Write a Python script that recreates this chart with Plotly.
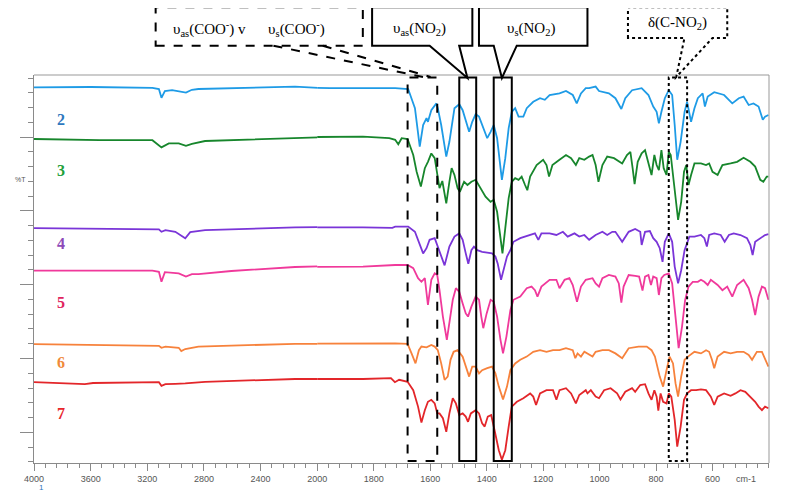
import plotly.graph_objects as go

# ---------------- data (wavenumber cm-1, %T offset units) ----------------
spec2 = [(4000, 93.9), (3600, 94.0), (3164, 93.8), (3118, 93.5), (3100, 91.3), (3076, 93.0), (3025, 93.2),
         (2927, 92.6), (2885, 93.3), (2839, 93.5), (2157, 94.1), (1955, 93.7), (1724, 93.7), (1678, 93.5),
         (1654, 88.7), (1637, 79.1), (1625, 84.5), (1613, 86.2), (1608, 85.3), (1596, 88.2), (1587, 89.1),
         (1578, 89.9), (1573, 88.7), (1561, 84.5), (1543, 76.6), (1532, 80.3), (1514, 88.7), (1497, 89.7),
         (1485, 88.2), (1474, 85.3), (1462, 82.8), (1451, 85.3), (1439, 87.2), (1427, 86.6), (1410, 83.7),
         (1398, 81.2), (1386, 82.8), (1375, 84.5), (1363, 81.2), (1351, 73.7), (1346, 70.8), (1334, 76.2),
         (1322, 83.7), (1311, 87.8), (1299, 88.7), (1287, 86.6), (1270, 86.6), (1258, 88.7), (1235, 90.3),
         (1211, 91.2), (1194, 90.8), (1177, 92.0), (1142, 92.4), (1119, 93.0), (1095, 92.0), (1081, 89.9),
         (1066, 92.4), (1049, 93.7), (1037, 93.7), (1014, 94.1), (1002, 93.0), (967, 92.4), (944, 91.2),
         (923, 88.5), (909, 91.2), (885, 93.2), (851, 93.7), (827, 92.0), (810, 89.1), (798, 87.8),
         (790, 84.9), (781, 87.8), (769, 91.2), (755, 93.2), (743, 92.0), (734, 84.5), (725, 75.8),
         (713, 80.3), (699, 87.8), (690, 90.3), (682, 87.8), (676, 85.3), (664, 88.7), (652, 91.2),
         (635, 92.4), (627, 89.1), (617, 91.6), (594, 92.7), (559, 92.0), (530, 89.9), (507, 91.2),
         (490, 91.6), (472, 89.5), (455, 89.9), (437, 89.1), (422, 85.8), (414, 86.6), (402, 87.0)]

spec3 = [(4000, 81.0), (3537, 80.7), (3164, 80.7), (3100, 78.9), (3048, 79.9), (2978, 79.9), (2927, 79.3),
         (2885, 79.8), (2792, 80.5), (2374, 81.0), (2157, 81.4), (1838, 81.6), (1745, 81.2), (1724, 80.8),
         (1713, 79.7), (1701, 81.2), (1680, 81.0), (1660, 77.0), (1648, 72.8), (1633, 69.1), (1619, 73.7),
         (1608, 75.3), (1596, 77.4), (1584, 76.2), (1575, 72.0), (1567, 68.7), (1557, 70.5), (1549, 67.8),
         (1543, 64.9), (1532, 70.3), (1524, 73.7), (1514, 72.0), (1503, 68.7), (1495, 67.8), (1480, 70.3),
         (1468, 69.5), (1454, 70.3), (1439, 70.8), (1421, 68.7), (1404, 66.6), (1386, 65.3), (1375, 65.8),
         (1363, 62.8), (1354, 57.8), (1344, 52.4), (1334, 58.7), (1322, 66.2), (1311, 70.3), (1299, 71.2),
         (1287, 70.8), (1276, 71.6), (1264, 69.5), (1256, 68.2), (1246, 71.6), (1223, 74.5), (1200, 75.8),
         (1188, 74.5), (1179, 71.6), (1167, 74.5), (1142, 75.8), (1119, 77.0), (1101, 76.2), (1084, 74.5),
         (1072, 76.2), (1054, 75.8), (1037, 76.6), (1025, 77.0), (1014, 74.5), (1004, 70.3), (990, 74.5),
         (973, 76.6), (949, 76.2), (932, 75.3), (920, 74.9), (903, 77.0), (891, 77.8), (883, 73.7),
         (876, 69.7), (865, 75.3), (851, 77.4), (839, 78.2), (827, 74.9), (816, 72.0), (806, 77.0),
         (798, 74.5), (790, 73.2), (781, 78.2), (773, 73.7), (763, 72.0), (755, 77.8), (748, 77.0),
         (736, 69.5), (722, 60.8), (711, 65.3), (701, 72.8), (693, 74.5), (685, 69.5), (676, 72.0),
         (664, 74.9), (641, 74.9), (623, 74.5), (612, 74.9), (600, 72.8), (582, 72.0), (565, 74.5),
         (536, 74.9), (513, 75.3), (490, 76.3), (466, 75.3), (449, 74.1), (431, 70.8), (420, 70.3),
         (408, 71.6), (402, 71.6)]

spec4 = [(4000, 58.7), (3118, 58.4), (3100, 57.8), (3072, 58.2), (3002, 57.8), (2932, 56.2), (2897, 57.7),
         (2792, 58.2), (2157, 58.9), (1838, 58.9), (1734, 58.8), (1724, 59.1), (1678, 59.1), (1654, 57.8),
         (1637, 54.5), (1625, 52.4), (1613, 53.7), (1602, 55.8), (1584, 56.2), (1575, 54.5), (1549, 49.4),
         (1532, 54.1), (1514, 56.6), (1497, 57.4), (1485, 55.8), (1474, 52.4), (1465, 49.8), (1454, 53.2),
         (1445, 54.1), (1433, 53.2), (1416, 52.8), (1398, 52.6), (1381, 52.4), (1369, 51.6), (1361, 49.9),
         (1349, 45.8), (1328, 51.6), (1316, 53.2), (1305, 55.3), (1281, 56.2), (1246, 57.0), (1229, 57.4),
         (1217, 55.8), (1206, 57.4), (1177, 57.4), (1153, 57.0), (1130, 57.8), (1113, 56.6), (1089, 57.4),
         (1072, 56.6), (1054, 57.0), (1037, 55.8), (1014, 57.0), (990, 57.8), (973, 57.0), (955, 57.8),
         (944, 57.8), (920, 55.3), (897, 57.8), (874, 58.5), (856, 57.8), (851, 54.5), (839, 57.8),
         (822, 58.0), (810, 56.2), (798, 55.3), (787, 53.7), (777, 50.3), (769, 55.3), (755, 57.4),
         (743, 55.3), (734, 49.1), (722, 44.9), (711, 48.2), (699, 53.2), (690, 55.3), (682, 56.6),
         (664, 56.6), (641, 57.0), (629, 56.2), (620, 54.1), (612, 57.0), (594, 57.4), (571, 57.0),
         (557, 55.3), (542, 57.0), (525, 57.4), (501, 57.0), (478, 56.2), (466, 54.5), (458, 52.0),
         (449, 55.3), (431, 56.2), (414, 57.0), (402, 57.2)]

spec5 = [(4000, 48.1), (3164, 48.1), (3118, 47.8), (3100, 45.3), (3076, 47.7), (2978, 47.4), (2927, 46.6),
         (2885, 47.2), (2839, 47.2), (2606, 48.0), (2157, 49.0), (1838, 49.1), (1724, 49.5), (1680, 49.5),
         (1660, 48.7), (1643, 46.2), (1631, 45.3), (1619, 46.2), (1608, 39.5), (1596, 45.8), (1584, 47.4),
         (1575, 47.0), (1567, 43.2), (1555, 36.6), (1541, 30.8), (1532, 34.9), (1520, 40.8), (1509, 43.7),
         (1497, 42.8), (1485, 39.9), (1474, 37.4), (1466, 36.6), (1454, 39.1), (1439, 41.6), (1427, 40.8),
         (1419, 36.6), (1412, 33.7), (1400, 37.4), (1386, 40.8), (1375, 40.3), (1363, 36.6), (1351, 30.8),
         (1342, 27.4), (1330, 31.6), (1316, 38.2), (1305, 40.8), (1281, 41.6), (1258, 43.7), (1241, 44.1),
         (1229, 43.2), (1220, 41.6), (1206, 44.1), (1177, 45.8), (1153, 45.8), (1142, 43.7), (1124, 45.8),
         (1107, 46.2), (1095, 44.5), (1080, 40.3), (1066, 44.1), (1049, 45.8), (1025, 46.2), (1014, 44.9),
         (1002, 44.1), (990, 46.2), (967, 47.0), (944, 46.6), (932, 44.9), (923, 40.1), (915, 44.1),
         (897, 47.0), (874, 46.8), (860, 46.6), (848, 43.1), (839, 46.6), (827, 47.0), (818, 44.5),
         (810, 46.6), (798, 46.2), (790, 42.0), (781, 46.2), (771, 47.0), (755, 47.4), (743, 44.9),
         (732, 36.6), (720, 28.7), (708, 34.1), (697, 40.8), (685, 44.1), (670, 45.3), (652, 45.3),
         (641, 45.8), (629, 45.3), (617, 44.5), (606, 45.8), (582, 44.5), (565, 43.2), (548, 44.1),
         (530, 41.6), (513, 44.5), (490, 45.8), (472, 43.7), (460, 40.8), (449, 37.0), (437, 41.6),
         (425, 44.1), (414, 43.7), (402, 40.8)]

spec6 = [(4000, 29.7), (3118, 29.3), (3100, 28.8), (3072, 29.1), (2978, 28.8), (2960, 28.0), (2932, 28.5),
         (2908, 28.7), (2839, 29.1), (2157, 29.8), (1724, 29.9), (1680, 29.8), (1666, 27.4), (1652, 24.9),
         (1640, 28.2), (1631, 29.1), (1613, 28.9), (1596, 29.5), (1584, 29.1), (1573, 28.2), (1561, 24.9),
         (1549, 20.8), (1538, 21.6), (1528, 25.8), (1517, 27.8), (1503, 28.2), (1485, 26.6), (1474, 24.1),
         (1462, 21.6), (1451, 24.1), (1439, 24.1), (1427, 22.4), (1416, 23.2), (1398, 23.7), (1381, 24.1),
         (1369, 22.4), (1357, 19.1), (1342, 15.9), (1328, 19.1), (1316, 23.2), (1299, 24.9), (1281, 25.8),
         (1258, 26.6), (1235, 27.8), (1211, 28.2), (1188, 27.8), (1165, 28.2), (1142, 28.2), (1119, 28.7),
         (1095, 28.2), (1086, 26.2), (1078, 27.4), (1066, 26.6), (1054, 27.8), (1037, 27.0), (1025, 26.6),
         (1014, 27.8), (990, 28.2), (967, 28.2), (944, 27.4), (920, 26.2), (897, 28.7), (862, 29.1),
         (833, 29.1), (816, 28.2), (804, 26.6), (787, 21.6), (775, 19.1), (763, 23.2), (752, 26.6),
         (740, 24.9), (731, 19.9), (722, 16.6), (711, 21.6), (699, 25.8), (687, 26.6), (664, 27.8),
         (641, 27.4), (623, 28.2), (612, 27.8), (602, 25.8), (594, 23.7), (582, 26.6), (559, 27.8),
         (536, 27.4), (513, 27.8), (490, 27.8), (472, 27.0), (460, 25.8), (443, 27.8), (425, 27.8),
         (414, 25.8), (402, 24.1)]

spec7 = [(4000, 20.2), (3700, 19.9), (3641, 19.7), (3583, 20.0), (3164, 20.3), (3118, 20.2), (3100, 19.3),
         (3072, 19.7), (3002, 19.8), (2932, 19.9), (2792, 20.3), (2157, 21.0), (1838, 21.0), (1739, 21.2),
         (1725, 20.2), (1710, 20.8), (1680, 20.3), (1660, 18.2), (1643, 14.1), (1631, 10.1), (1619, 13.2),
         (1608, 15.3), (1596, 15.8), (1584, 14.9), (1575, 12.4), (1567, 12.4), (1555, 11.2), (1543, 7.8),
         (1532, 12.4), (1520, 16.2), (1509, 14.9), (1497, 12.0), (1485, 12.4), (1474, 11.6), (1466, 10.3),
         (1456, 12.4), (1439, 13.2), (1427, 12.4), (1416, 9.9), (1407, 9.1), (1396, 11.6), (1384, 12.0),
         (1372, 8.2), (1357, 3.2), (1346, 0.8), (1334, 3.2), (1322, 9.1), (1311, 14.1), (1293, 15.3),
         (1270, 16.2), (1246, 17.4), (1235, 16.6), (1225, 14.5), (1211, 17.4), (1188, 18.2), (1165, 18.2),
         (1153, 15.8), (1142, 18.2), (1119, 18.7), (1101, 17.4), (1084, 14.9), (1072, 17.0), (1049, 18.2),
         (1043, 17.4), (1031, 18.2), (1014, 16.6), (1002, 16.2), (984, 18.2), (961, 18.7), (938, 17.4),
         (926, 15.9), (909, 17.8), (885, 18.7), (874, 17.8), (856, 19.5), (839, 19.7), (827, 17.4),
         (816, 15.8), (806, 18.2), (798, 16.6), (792, 13.1), (784, 17.4), (775, 15.3), (763, 14.9),
         (755, 17.4), (746, 16.6), (734, 10.8), (725, 4.1), (713, 9.1), (701, 15.8), (690, 17.4),
         (676, 18.2), (658, 18.2), (641, 18.4), (623, 18.2), (606, 16.6), (594, 14.5), (582, 16.6),
         (559, 17.4), (536, 16.8), (519, 17.4), (501, 18.2), (484, 17.8), (466, 16.6), (449, 15.3),
         (437, 14.1), (425, 13.2), (414, 14.1), (402, 13.7)]

series_names = ["2", "3", "4", "5", "6", "7"]
series_data = [spec2, spec3, spec4, spec5, spec6, spec7]
line_colors = ["#1E9BE6", "#17862C", "#7A35D8", "#F0399B", "#F7823C", "#E3262A"]
label_colors = ["#2E78BE", "#23A03A", "#8E4AB8", "#E0245E", "#F08A3A", "#E8262B"]
label_pos = [(3809, 86.0), (3809, 73.2), (3809, 55.0), (3809, 40.2), (3809, 25.2), (3809, 12.5)]

# band marker boxes (cm-1)
box_dashed = (1680, 1575)
box_as_no2 = (1497, 1437)
box_s_no2 = (1375, 1311)
box_dotted = (755, 690)

x_major_hi = [4000, 3600, 3200, 2800, 2400, 2000]
x_major_lo = [1800, 1600, 1400, 1200, 1000, 800, 600]

# ---------------- figure ----------------
# page has an 8px body margin, so the figure is sized to fit inside it
W, H = 771, 491
ML, MR, MT, MB = 26, 0, 67, 36
PW, PH = W - ML - MR, H - MT - MB          # 745 x 388
PAGE_LEFT, PAGE_BOTTOM = 34, 463            # plot-area left / bottom on the page
split = (321.1 - PAGE_LEFT) / PW


def P(px, py):
    """page pixel -> paper coordinates"""
    return (px - PAGE_LEFT) / PW, (PAGE_BOTTOM - py) / PH


fig = go.Figure()
for name, data, col in zip(series_names, series_data, line_colors):
    xs = [p[0] for p in data]
    ys = [p[1] for p in data]
    for xa in ("x", "x2"):
        fig.add_trace(go.Scatter(x=xs, y=ys, mode="lines", xaxis=xa, yaxis="y",
                                 line=dict(color=col, width=1.8), showlegend=False,
                                 hoverinfo="skip", name=name))

axcol = "#8a8a8a"
tickfont = dict(family="Liberation Sans, Arial, sans-serif", size=9, color="#555555")

fig.update_layout(
    width=W, height=H, margin=dict(l=ML, r=MR, t=MT, b=MB),
    plot_bgcolor="white", paper_bgcolor="white", showlegend=False,
    xaxis=dict(domain=[0, split], range=[4000, 2000], anchor="y", tickmode="array",
               tickvals=x_major_hi, ticks="outside", ticklen=7, tickcolor=axcol, tickwidth=1,
               showline=True, linecolor=axcol, linewidth=1, showgrid=False, zeroline=False,
               tickfont=tickfont,
               minor=dict(tickmode="linear", tick0=0, dtick=80, ticks="outside", ticklen=4,
                          tickcolor=axcol, showgrid=False)),
    xaxis2=dict(domain=[split, 1], range=[2000, 400], anchor="y", tickmode="array",
                tickvals=x_major_lo, ticks="outside", ticklen=7, tickcolor=axcol, tickwidth=1,
                showline=True, linecolor=axcol, linewidth=1, showgrid=False, zeroline=False,
                tickfont=tickfont,
                minor=dict(tickmode="linear", tick0=0, dtick=40, ticks="outside", ticklen=4,
                           tickcolor=axcol, showgrid=False)),
    yaxis=dict(domain=[0, 1], range=[0, 97], anchor="x", showticklabels=False,
               tickmode="linear", tick0=7.7, dtick=18.45, ticks="outside", ticklen=13,
               tickcolor=axcol, showline=True, linecolor=axcol, linewidth=1, showgrid=False,
               zeroline=False,
               minor=dict(tickmode="linear", tick0=0.3, dtick=3.69, ticks="outside", ticklen=5,
                          tickcolor=axcol, showgrid=False)),
)

shapes = []
# top and right frame
shapes.append(dict(type="line", xref="paper", yref="paper", x0=0, x1=1, y0=1, y1=1,
                   line=dict(color="#999999", width=1)))
shapes.append(dict(type="line", xref="paper", yref="paper", x0=1, x1=1, y0=0, y1=1,
                   line=dict(color="#999999", width=1)))

# band boxes
for (a, b), dash in [(box_dashed, "dash"), (box_as_no2, "solid"), (box_s_no2, "solid"), (box_dotted, "dot")]:
    shapes.append(dict(type="rect", xref="x2", yref="y", x0=a, x1=b, y0=0.5, y1=96.4,
                       line=dict(color="black", width=2, dash=dash), fillcolor="rgba(0,0,0,0)"))


def path(pts):
    s = ""
    for i, (px, py) in enumerate(pts):
        x, y = P(px, py)
        s += ("M" if i == 0 else " L") + f" {x:.4f},{y:.4f}"
    return s + " Z"


# dashed callout (rectangle + two dashed leader lines)
x0, y0 = P(157.3, 45.7)
x1, y1 = P(367.3, 7.3)
shapes.append(dict(type="rect", xref="paper", yref="paper", x0=x0, x1=x1, y0=y0, y1=y1,
                   line=dict(color="black", width=2, dash="dash"), fillcolor="white"))
for (ax, ay), (bx, by) in [((276.7, 45.7), (428.3, 77)), ((326.7, 45.7), (436, 77))]:
    u0, v0 = P(ax, ay)
    u1, v1 = P(bx, by)
    shapes.append(dict(type="line", xref="paper", yref="paper", x0=u0, y0=v0, x1=u1, y1=v1,
                       line=dict(color="black", width=2, dash="dash")))

# solid callouts
shapes.append(dict(type="path", xref="paper", yref="paper", fillcolor="white",
                   line=dict(color="black", width=2),
                   path=path([(376.7, 45.7), (376.7, 7.3), (478.3, 7.3), (478.3, 45.7),
                              (465, 45.7), (473.3, 78), (435, 45.7)])))
shapes.append(dict(type="path", xref="paper", yref="paper", fillcolor="white",
                   line=dict(color="black", width=2),
                   path=path([(485, 45.7), (485, 7.3), (595, 7.3), (595, 45.7),
                              (523.3, 45.7), (508.3, 78), (500, 45.7)])))
# dotted callout
shapes.append(dict(type="path", xref="paper", yref="paper", fillcolor="white",
                   line=dict(color="black", width=2, dash="dot"),
                   path=path([(636, 38), (636, 7.3), (736.7, 7.3), (736.7, 38),
                              (721.7, 38), (685, 77), (693.3, 38)])))
fig.update_layout(shapes=shapes)

serif = "Liberation Serif, Times New Roman, serif"
ann = []
for (text, px, py) in [
    ("υ<sub>as</sub>(COO<sup>-</sup>) v\u00a0\u00a0\u00a0\u00a0\u00a0\u00a0υ<sub>s</sub>(COO<sup>-</sup>)", 252, 29),
    ("υ<sub>as</sub>(NO<sub>2</sub>)", 425, 29),
    ("υ<sub>s</sub>(NO<sub>2</sub>)", 538, 29),
    ("δ(C-NO<sub>2</sub>)", 686, 23),
]:
    x, y = P(px, py)
    ann.append(dict(text=text, x=x, y=y, xref="paper", yref="paper", showarrow=False,
                    font=dict(family=serif, size=15, color="black"), xanchor="center", yanchor="middle"))

for name, (lx, ly), col in zip(series_names, label_pos, label_colors):
    ann.append(dict(text=f"<b>{name}</b>", x=lx, y=ly, xref="x", yref="y", showarrow=False,
                    font=dict(family=serif, size=16, color=col), xanchor="center", yanchor="middle"))

x, y = P(13, 174)
ann.append(dict(text="%T", x=x, y=y, xref="paper", yref="paper", showarrow=False,
                font=dict(family="Liberation Sans, Arial", size=7, color="#555555")))
x, y = P(37, 494)
ann.append(dict(text="1", x=x, y=y, xref="paper", yref="paper", showarrow=False,
                font=dict(family="Liberation Sans, Arial", size=8, color="#2E78BE")))
x, y = P(768, 486)
ann.append(dict(text="cm-1", x=x, y=y, xref="paper", yref="paper", showarrow=False,
                font=dict(family="Liberation Sans, Arial", size=9, color="#555555")))
fig.update_layout(annotations=ann)

fig.write_html("out.html")
